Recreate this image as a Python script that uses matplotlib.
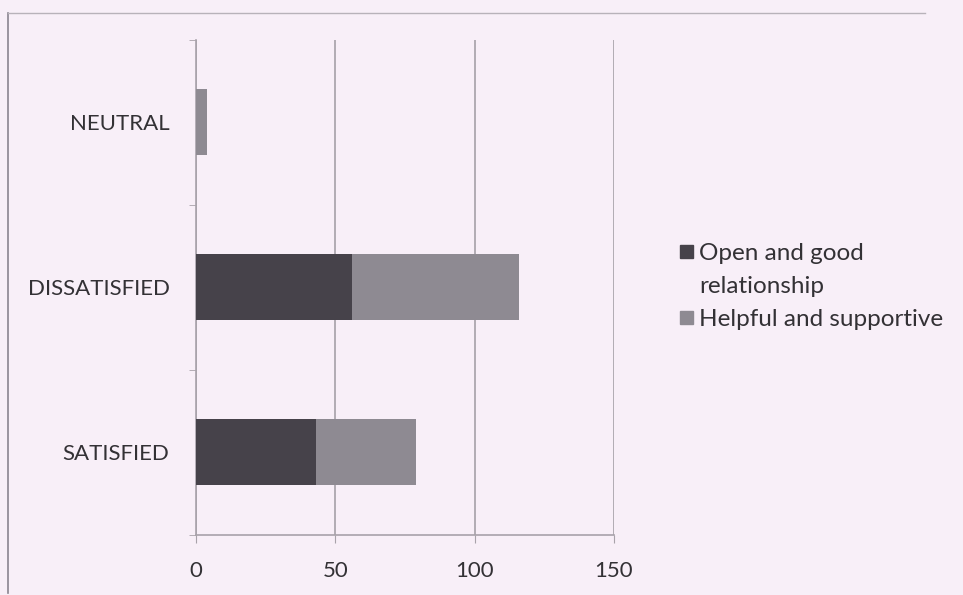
import matplotlib.pyplot as plt
from matplotlib.patches import Rectangle
from matplotlib.lines import Line2D
import numpy as np

# survey responses, bottom to top as drawn
categories = ['SATISFIED', 'DISSATISFIED', 'NEUTRAL']
open_good = [43, 56, 0]
helpful = [36, 60, 4]
series_names = ['Open and good\nrelationship', 'Helpful and supportive']
x_ticks = [0, 50, 100, 150]

bg = '#f8eff8'
dark = '#46424a'
grey = '#8e8a92'
text_col = '#333135'

plt.rcParams['font.family'] = ['Lato', 'DejaVu Sans']

fig = plt.figure(figsize=(9.63, 5.95), dpi=100, facecolor=bg)
ax = fig.add_axes([0.2035, 0.1008, 0.4341, 0.8328], facecolor=bg)

y = np.arange(len(categories))
ax.barh(y, open_good, height=0.4, color=dark, zorder=3)
ax.barh(y, helpful, left=open_good, height=0.4, color=grey, zorder=3)

ax.set_xlim(0, 150)
ax.set_ylim(-0.5, len(categories) - 0.5)
ax.set_xticks(x_ticks)
ax.set_xticklabels([str(t) for t in x_ticks], fontsize=16, color=text_col)
ax.set_yticks(y)
ax.set_yticklabels(categories, fontsize=16, color=text_col)
ax.tick_params(axis='y', length=0, pad=19)
ax.tick_params(axis='x', length=6, color='#a8a2aa', pad=13)

# category boundary ticks on the value axis
ax.set_yticks(np.arange(-0.5, len(categories), 1.0), minor=True)
ax.tick_params(axis='y', which='minor', length=5, color='#a8a2aa')

ax.grid(axis='x', color='#a6a0a8', linewidth=1.2, zorder=0)
for side in ['top', 'right']:
    ax.spines[side].set_visible(False)
ax.spines['left'].set_color('#a8a2aa')
ax.spines['bottom'].set_color('#a8a2aa')
ax.spines['left'].set_linewidth(1.2)
ax.spines['bottom'].set_linewidth(1.2)

# legend drawn by hand so the marker sits on the first line
W, H = 963, 595
entries = [(series_names[0], dark, 252), (series_names[1], grey, 318)]
for label, col, ypix in entries:
    fig.patches.append(Rectangle((680 / W, 1 - (ypix + 6) / H), 13 / W, 13 / H,
                                 transform=fig.transFigure, color=col))
    fig.text(699 / W, 1 - (ypix - 9) / H, label, fontsize=17.5, color=text_col,
             va='top', ha='left', linespacing=1.7)

# outer frame
fig.add_artist(Line2D([8 / W, 8 / W], [1 - 13 / H, 1 - 593 / H],
                      transform=fig.transFigure, color='#8a8590', linewidth=1.2))
fig.add_artist(Line2D([8 / W, 925 / W], [1 - 13 / H, 1 - 13 / H],
                      transform=fig.transFigure, color='#b8b2ba', linewidth=1.0))

fig.savefig('out.png', dpi=100, facecolor=bg)
